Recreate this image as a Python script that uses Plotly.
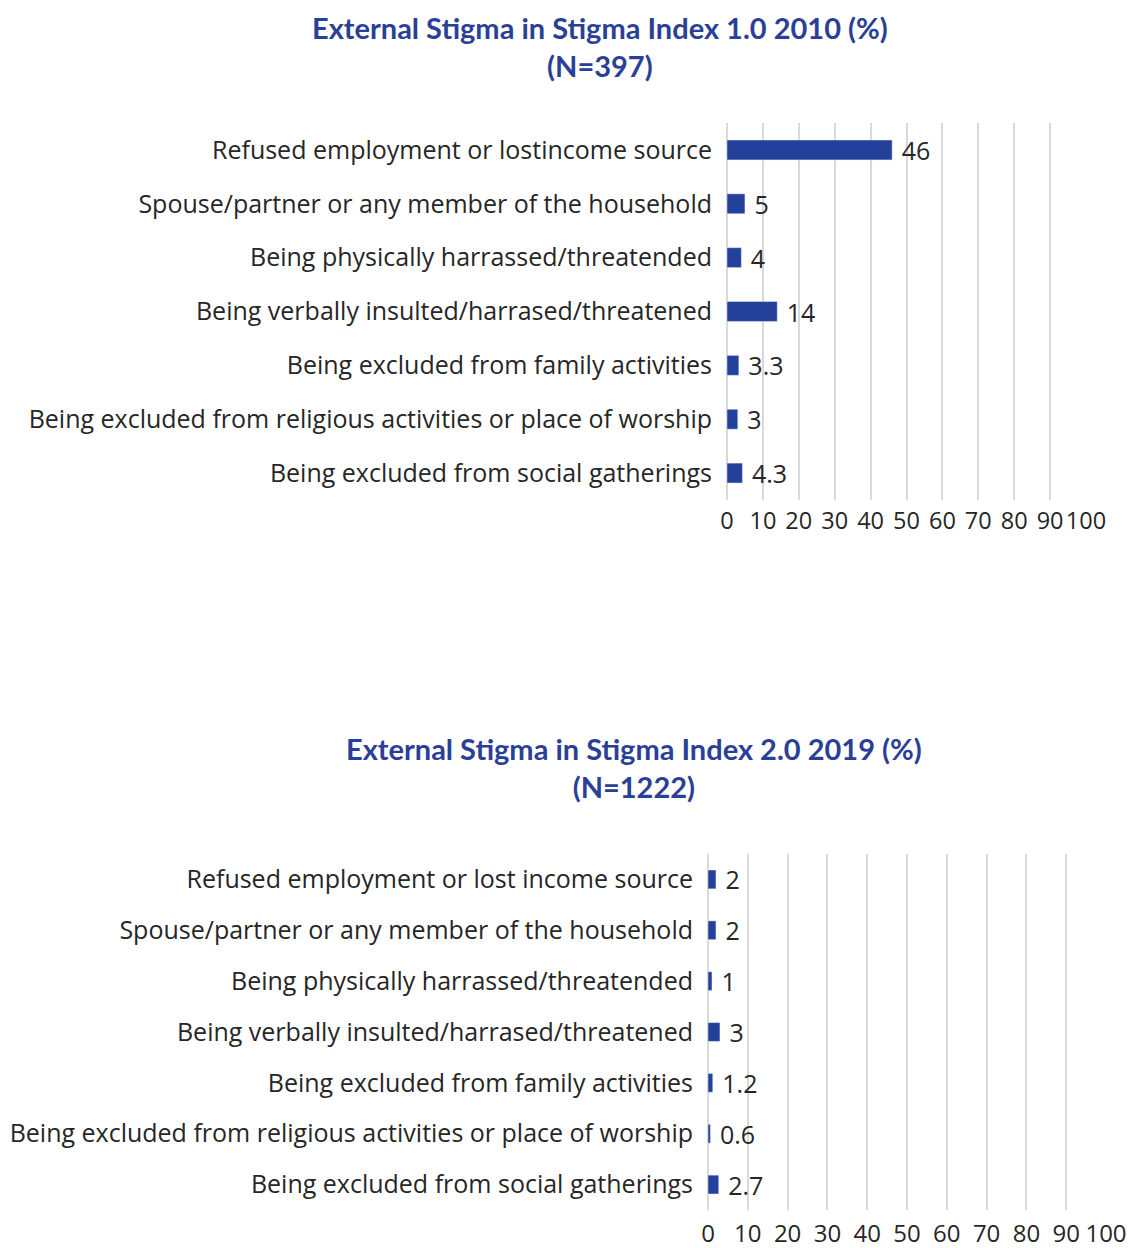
import plotly.graph_objects as go

# Categories (top to bottom as displayed)
cats_2010 = [
    "Refused employment or lostincome source",
    "Spouse/partner or any member of the household",
    "Being physically harrassed/threatended",
    "Being verbally insulted/harrased/threatened",
    "Being excluded from family activities",
    "Being excluded from religious activities or place of worship",
    "Being excluded from social gatherings",
]
vals_2010 = [46, 5, 4, 14, 3.3, 3, 4.3]

cats_2019 = [
    "Refused employment or lost income source",
    "Spouse/partner or any member of the household",
    "Being physically harrassed/threatended",
    "Being verbally insulted/harrased/threatened",
    "Being excluded from family activities",
    "Being excluded from religious activities or place of worship",
    "Being excluded from social gatherings",
]
vals_2019 = [2, 2, 1, 3, 1.2, 0.6, 2.7]

x_ticks = [0, 10, 20, 30, 40, 50, 60, 70, 80, 90, 100]

title_2010 = "External Stigma in Stigma Index 1.0 2010 (%)<br>(N=397)"
title_2019 = "External Stigma in Stigma Index 2.0 2019 (%)<br>(N=1222)"

BAR = "#23409a"
TXT = "#262626"
GRID = "#d9d9d9"
FONT = "Open Sans"
TFONT = "Lato"
FS = 25

W, H = 1140, 1248

fig = go.Figure()
for vals, cats, xr, yr in [(vals_2010, cats_2010, "x", "y"),
                           (vals_2019, cats_2019, "x2", "y2")]:
    fig.add_trace(go.Bar(
        x=vals, y=cats, orientation="h", width=0.37,
        marker_color=BAR, text=vals, texttemplate=" %{x}",
        textposition="outside", cliponaxis=False, constraintext="none",
        textfont=dict(family=FONT, size=FS, color=TXT),
        xaxis=xr, yaxis=yr, showlegend=False,
    ))


def px_x(v):
    return v / W


def px_y(v):
    return 1 - v / H


xa = dict(range=[0, 100], tickvals=x_ticks, tickangle=0, showgrid=True,
          gridcolor=GRID, gridwidth=1.5, zeroline=True, zerolinecolor=GRID,
          zerolinewidth=1.5, showline=False, automargin=False, fixedrange=True)
ya = dict(autorange="reversed", showgrid=False, zeroline=False, showline=False,
          automargin=False, ticklabelstandoff=14,
          tickfont=dict(family=FONT, size=FS, color=TXT), fixedrange=True)

fig.update_layout(
    width=W, height=H,
    margin=dict(l=0, r=0, t=0, b=0),
    paper_bgcolor="white", plot_bgcolor="white",
    font=dict(family=FONT, color=TXT),
    xaxis=dict(domain=[px_x(727), px_x(1086)], anchor="y",
               ticklabelstandoff=4,
               tickfont=dict(family=FONT, size=23.5, color=TXT), **xa),
    yaxis=dict(domain=[px_y(500), px_y(123)], anchor="x", **ya),
    xaxis2=dict(domain=[px_x(708), px_x(1106)], anchor="y2",
                ticklabelstandoff=7,
                tickfont=dict(family=FONT, size=24, color=TXT), **xa),
    yaxis2=dict(domain=[px_y(1210), px_y(854)], anchor="x2", **ya),
    annotations=[
        dict(text="<b>" + title_2010 + "</b>", x=px_x(600), y=px_y(47),
             xref="paper", yref="paper", xanchor="center", yanchor="middle",
             showarrow=False,
             font=dict(family=TFONT, size=29, color="#2a3f98")),
        dict(text="<b>" + title_2019 + "</b>", x=px_x(634), y=px_y(767),
             xref="paper", yref="paper", xanchor="center", yanchor="middle",
             showarrow=False,
             font=dict(family=TFONT, size=29, color="#2a3f98")),
    ],
)

fig.write_html("out.html")
